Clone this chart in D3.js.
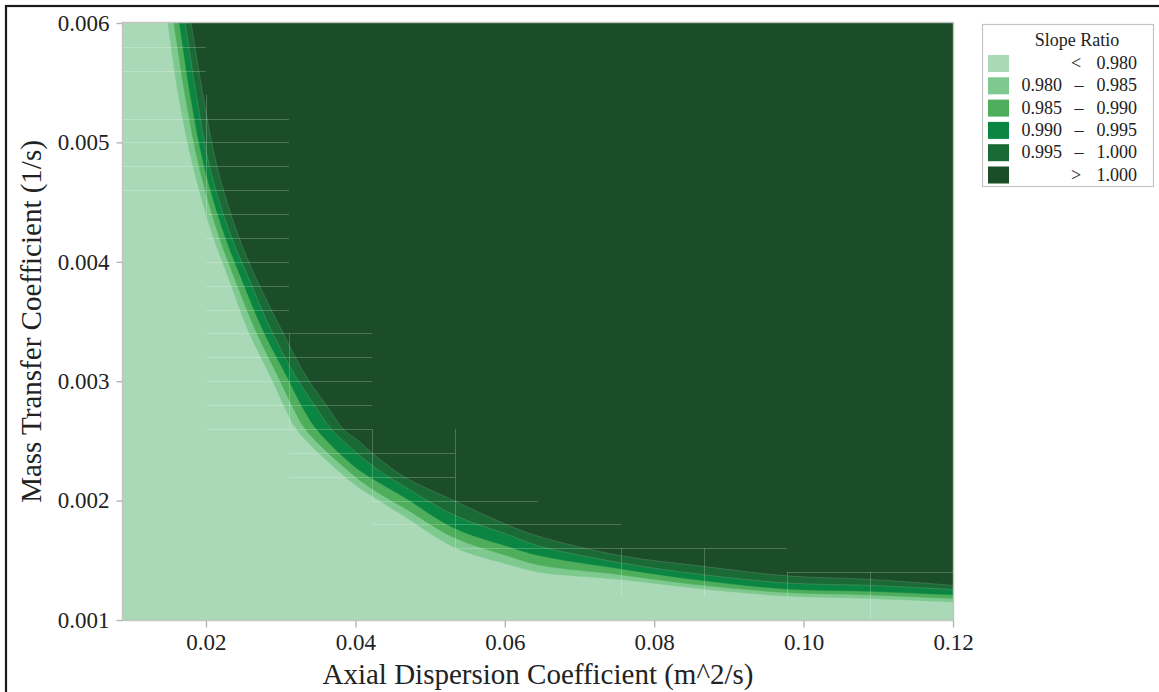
<!DOCTYPE html>
<html>
<head>
<meta charset="utf-8">
<script src="https://cdn.jsdelivr.net/npm/d3@7"></script>
<style>
  html, body { margin: 0; padding: 0; background: #ffffff; }
  svg { display: block; }
  text { font-family: "Liberation Serif", "Times New Roman", "DejaVu Serif", serif; fill: #222; }
</style>
</head>
<body>
<svg id="chart" width="1159" height="692"></svg>
<script>
// Contour levels of the slope ratio and the band labels
const levels = [0.980, 0.985, 0.990, 0.995, 1.000];
const legendRows = [
  { lo: null,    hi: "0.980", sym: "<" },
  { lo: "0.980", hi: "0.985", sym: "–" },
  { lo: "0.985", hi: "0.990", sym: "–" },
  { lo: "0.990", hi: "0.995", sym: "–" },
  { lo: "0.995", hi: "1.000", sym: "–" },
  { lo: null,    hi: "1.000", sym: ">" }
];
const bandColors = ["#aad9b7", "#7ec98f", "#4eae5b", "#0a8542", "#1a6a36", "#1a4d28"];

// Iso-lines: [axial dispersion (m^2/s), mass transfer coefficient (1/s)]
const iso0980 = [[0.0149,0.0060],[0.0164,0.00536],[0.0183,0.00479],[0.0208,0.00424],[0.0231,0.00385],[0.0256,0.00343],[0.0287,0.00303],[0.0307,0.00276],[0.0322,0.00259],[0.0400,0.00213],[0.0432,0.00200],[0.0465,0.00187],[0.0532,0.00161],[0.0602,0.00147],[0.0646,0.00140],[0.0754,0.00134],[0.0865,0.00126],[0.0977,0.00120],[0.1089,0.00118],[0.1200,0.00115]];
const iso0985 = [[0.0157,0.0060],[0.0173,0.00536],[0.0191,0.00479],[0.0216,0.00424],[0.0239,0.00385],[0.0266,0.00343],[0.0297,0.00303],[0.0318,0.00276],[0.0334,0.00259],[0.0400,0.00220],[0.0432,0.00206],[0.0465,0.00194],[0.0532,0.00169],[0.0602,0.00154],[0.0646,0.00146],[0.0754,0.00138],[0.0865,0.00129],[0.0977,0.00123],[0.1089,0.00121],[0.1200,0.00118]];
const iso0990 = [[0.01645,0.0060],[0.0180,0.00536],[0.0198,0.00479],[0.0224,0.00424],[0.0248,0.00385],[0.0276,0.00343],[0.0309,0.00303],[0.0331,0.00276],[0.0349,0.00259],[0.0400,0.00228],[0.0432,0.00215],[0.0465,0.00203],[0.0532,0.00177],[0.0602,0.00162],[0.0646,0.00154],[0.0754,0.00143],[0.0865,0.00133],[0.0977,0.00126],[0.1089,0.00124],[0.1200,0.00121]];
const iso0995 = [[0.0172,0.0060],[0.0188,0.00536],[0.0205,0.00479],[0.0232,0.00424],[0.0258,0.00385],[0.0287,0.00343],[0.0319,0.00305],[0.0345,0.00280],[0.0369,0.00259],[0.0400,0.00241],[0.0432,0.00225],[0.0465,0.00212],[0.0532,0.00188],[0.0602,0.00172],[0.0646,0.00162],[0.0754,0.00148],[0.0865,0.00138],[0.0977,0.00131],[0.1089,0.00129],[0.1200,0.001255]];
const iso1000 = [[0.0180,0.0060],[0.0197,0.00536],[0.0215,0.00479],[0.0242,0.00424],[0.0268,0.00385],[0.0301,0.00343],[0.0333,0.00305],[0.0361,0.00280],[0.0385,0.00259],[0.0400,0.00252],[0.0432,0.00235],[0.0465,0.00220],[0.0532,0.00200],[0.0602,0.00180],[0.0646,0.00170],[0.0754,0.00154],[0.0865,0.00145],[0.0977,0.00137],[0.1089,0.00134],[0.1200,0.00129]];
const isoLines = [iso0980, iso0985, iso0990, iso0995, iso1000];

// Mesh cell edges that show through the filled surface
const seamH = [ // [k, D from, D to]
  [0.0058,0.00889,0.02],[0.0056,0.00889,0.02],
  [0.0052,0.00889,0.03111],[0.0050,0.00889,0.03111],[0.0048,0.00889,0.03111],[0.0046,0.00889,0.03111],
  [0.0044,0.02,0.03111],[0.0042,0.02,0.03111],[0.0040,0.02,0.03111],[0.0038,0.02,0.03111],[0.0036,0.02,0.03111],
  [0.0034,0.02,0.04222],[0.0032,0.02,0.04222],[0.0030,0.02,0.04222],[0.0028,0.02,0.04222],[0.0026,0.02,0.04222],
  [0.0024,0.03111,0.05333],[0.0022,0.03111,0.05333],
  [0.0020,0.04222,0.06444],[0.0018,0.04222,0.07556],
  [0.0016,0.05333,0.09778],[0.0014,0.09778,0.12]
];
const seamV = [ // [D, k from, k to]
  [0.02,0.0054,0.0044],[0.03111,0.0034,0.0026],[0.04222,0.0026,0.0020],[0.05333,0.0026,0.0016],
  [0.07556,0.0016,0.0012],[0.08667,0.0016,0.0012],[0.09778,0.0014,0.0012],[0.10889,0.0014,0.0010]
];

const xTicks = [0.02, 0.04, 0.06, 0.08, 0.10, 0.12];
const yTicks = [0.001, 0.002, 0.003, 0.004, 0.005, 0.006];
const xDomain = [0.008889, 0.12];
const yDomain = [0.001, 0.006];

const svg = d3.select("#chart");
const plot = { left: 123, right: 953, top: 23, bottom: 620 };

// outer frame
svg.append("rect")
  .attr("x", 6).attr("y", 6).attr("width", 1170).attr("height", 700)
  .attr("fill", "none").attr("stroke", "#1b1b1b").attr("stroke-width", 2.2);

const x = d3.scaleLinear().domain(xDomain).range([plot.left, plot.right]);
const y = d3.scaleLinear().domain(yDomain).range([plot.bottom, plot.top]);

svg.append("defs").append("clipPath").attr("id", "plotClip")
  .append("rect")
  .attr("x", plot.left).attr("y", plot.top)
  .attr("width", plot.right - plot.left).attr("height", plot.bottom - plot.top);

const g = svg.append("g").attr("clip-path", "url(#plotClip)");

// lowest band fills the whole area
g.append("rect")
  .attr("x", x(xDomain[0])).attr("y", y(yDomain[1]))
  .attr("width", x(xDomain[1]) - x(xDomain[0]))
  .attr("height", y(yDomain[0]) - y(yDomain[1]))
  .attr("fill", bandColors[0]);

const smooth = d3.line().x(d => x(d[0])).y(d => y(d[1])).curve(d3.curveCatmullRom.alpha(0.5));

// every higher band: region beyond its iso-line, closed through the top-right corner
isoLines.forEach((pts, i) => {
  const d = smooth(pts) + `L${x(xDomain[1])},${y(yDomain[1])}Z`;
  g.append("path")
    .attr("d", d)
    .attr("fill", bandColors[i + 1])
    .attr("stroke", bandColors[i + 1])
    .attr("stroke-width", 0.4);
});

// faint seams along the two upper iso-lines
[iso0995, iso1000].forEach(pts => {
  g.append("path")
    .attr("d", smooth(pts))
    .attr("fill", "none")
    .attr("stroke", "rgba(255,255,255,0.2)")
    .attr("stroke-width", 0.8);
});

// mesh seams
g.selectAll("line.seamH").data(seamH).join("line")
  .attr("class", "seamH")
  .attr("x1", d => x(d[1])).attr("x2", d => x(d[2]))
  .attr("y1", d => Math.round(y(d[0])) + 0.5).attr("y2", d => Math.round(y(d[0])) + 0.5)
  .attr("stroke", "rgba(255,255,255,0.22)").attr("stroke-width", 1);
g.selectAll("line.seamV").data(seamV).join("line")
  .attr("class", "seamV")
  .attr("x1", d => Math.round(x(d[0])) + 0.5).attr("x2", d => Math.round(x(d[0])) + 0.5)
  .attr("y1", d => y(d[1])).attr("y2", d => y(d[2]))
  .attr("stroke", "rgba(255,255,255,0.22)").attr("stroke-width", 1);

// plot border
svg.append("rect")
  .attr("x", plot.left - 0.5).attr("y", plot.top - 0.5)
  .attr("width", plot.right - plot.left + 1).attr("height", plot.bottom - plot.top + 1)
  .attr("fill", "none").attr("stroke", "#c4c4c4").attr("stroke-width", 1.4);

// axes
const xAxis = svg.append("g")
  .attr("transform", `translate(0,${plot.bottom + 0.5})`)
  .call(d3.axisBottom(x).tickValues(xTicks).tickFormat(d3.format(".2f")).tickSize(7).tickPadding(6));
const yAxis = svg.append("g")
  .attr("transform", `translate(${plot.left - 0.5},0)`)
  .call(d3.axisLeft(y).tickValues(yTicks).tickFormat(d3.format(".3f")).tickSize(6).tickPadding(7));
[xAxis, yAxis].forEach(a => {
  a.select(".domain").remove();
  a.selectAll(".tick line").attr("stroke", "#b5b5b5").attr("stroke-width", 1.4);
  a.selectAll(".tick text")
    .style("font-family", '"Liberation Serif", "Times New Roman", serif')
    .style("font-size", "23px").attr("fill", "#222");
});

// axis titles
svg.append("text")
  .attr("x", (plot.left + plot.right) / 2).attr("y", 684)
  .attr("text-anchor", "middle")
  .style("font-size", "29px")
  .text("Axial Dispersion Coefficient (m^2/s)");
svg.append("text")
  .attr("transform", `translate(41,${(plot.top + plot.bottom) / 2}) rotate(-90)`)
  .attr("text-anchor", "middle")
  .style("font-size", "29px")
  .text("Mass Transfer Coefficient (1/s)");

// legend
const lg = svg.append("g");
lg.append("rect")
  .attr("x", 982.5).attr("y", 24.5).attr("width", 171).attr("height", 162)
  .attr("fill", "#fff").attr("stroke", "#c4c4c4").attr("stroke-width", 1.2);
lg.append("text")
  .attr("x", 1077).attr("y", 46).attr("text-anchor", "middle")
  .style("font-size", "18px").text("Slope Ratio");
const rowY = d3.scaleLinear().domain([0, 1]).range([63.5, 85.8]);
legendRows.forEach((r, i) => {
  const cy = rowY(i);
  lg.append("rect")
    .attr("x", 988).attr("y", cy - 8.5).attr("width", 21).attr("height", 17)
    .attr("fill", bandColors[i]);
  const base = cy + 5.5;
  if (r.lo !== null) {
    lg.append("text").attr("x", 1062).attr("y", base).attr("text-anchor", "end")
      .style("font-size", "18px").text(r.lo);
  }
  lg.append("text").attr("x", r.lo === null ? 1076 : 1079).attr("y", base).attr("text-anchor", "middle")
    .style("font-size", "18px").text(r.sym);
  lg.append("text").attr("x", 1137).attr("y", base).attr("text-anchor", "end")
    .style("font-size", "18px").text(r.hi);
});
</script>
</body>
</html>
